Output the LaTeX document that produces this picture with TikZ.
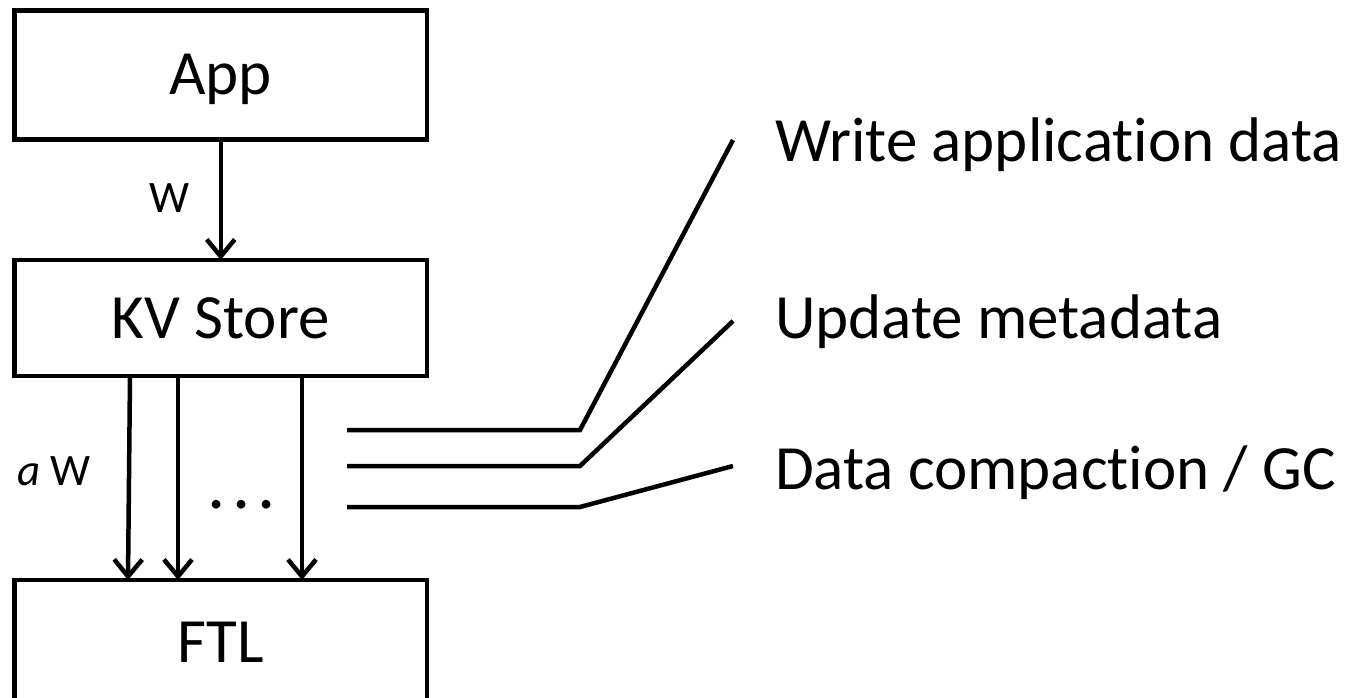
\documentclass[tikz,border=0pt]{standalone}
\usepackage{fontspec}
\setmainfont{Carlito}[Ligatures=NoCommon]
\usetikzlibrary{arrows.meta}
\begin{document}
\begin{tikzpicture}[x=1pt,y=-1pt,
  every node/.style={inner sep=0pt, outer sep=0pt},
  layer/.style={draw, line width=4.5pt, minimum width=412.5pt,
    text height=40pt, text depth=0pt, font=\fontsize{63}{70}\selectfont},
  flow/.style={line width=4.5pt, -{Straight Barb[length=17pt,width=28pt,line width=4.5pt]}},
  leader/.style={line width=4.5pt},
  caption/.style={anchor=base west, font=\fontsize{63}{70}\selectfont},
  small/.style={font=\fontsize{45}{52}\selectfont}]
\useasboundingbox (0,0) rectangle (1359,698);

% stacked layers
\node[layer, minimum height=129pt] (app) at (220.75,75) {App};
\node[layer, minimum height=116pt] (kv) at (220.75,318) {KV Store};
\node[layer, minimum height=124pt] (ftl) at (220.75,642) {FTL};

% write flow through the layers
\draw[flow] (app.south) -- (kv.north);
\draw[flow] ([xshift=-90.75pt]kv.south) -- ([xshift=-92.75pt]ftl.north);
\draw[flow] ([xshift=-42.75pt]kv.south) -- ([xshift=-42.75pt]ftl.north);
\draw[flow] ([xshift=81.25pt]kv.south) -- ([xshift=81.25pt]ftl.north);

\node[small, anchor=base] (w) at (170,212) {W};
\node[small, anchor=base west] (aw) at (17,485) {{\itshape a} W};
\node[anchor=base] (dots) at (242,508) {\fontsize{72}{80}\selectfont .\hspace{7pt}.\hspace{7pt}.};

% write categories
\node[caption] (c1) at (775,161) {Write application data};
\node[caption] (c2) at (775,338) {Update metadata};
\node[caption] (c3) at (775,489) {Data compaction / GC};

\coordinate (s1) at (347,430);
\coordinate (b1) at (580,430);
\coordinate (e1) at (733,140);
\coordinate (s2) at (347,466);
\coordinate (b2) at (580,466);
\coordinate (e2) at (733,321);
\coordinate (s3) at (347,507);
\coordinate (b3) at (580,507);
\coordinate (e3) at (733,466);

\draw[leader] (s1) -- (b1) -- (e1);
\draw[leader] (s2) -- (b2) -- (e2);
\draw[leader] (s3) -- (b3) -- (e3);
\end{tikzpicture}
\end{document}
